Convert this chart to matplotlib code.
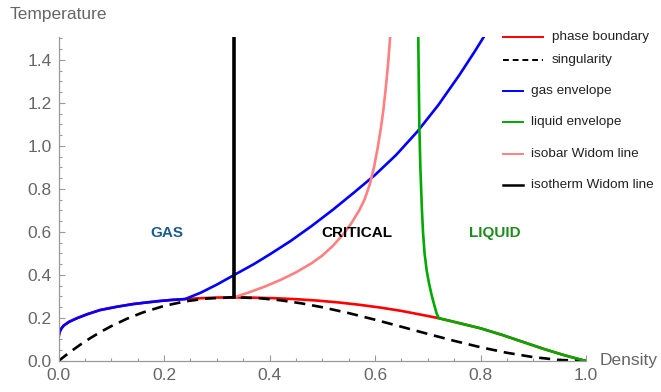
import matplotlib
matplotlib.use("Agg")
import matplotlib.pyplot as plt
from matplotlib.lines import Line2D
from matplotlib.ticker import MultipleLocator

plt.rcParams["font.family"] = ["Liberation Sans", "DejaVu Sans"]

# gas branch of the coexistence curve (low density side)
gas_low_rho = [0.0, 0.001, 0.003, 0.006, 0.01, 0.02, 0.035, 0.055, 0.079, 0.11, 0.142, 0.17,
               0.192, 0.215, 0.24]
gas_low_T = [0.105, 0.124, 0.14, 0.153, 0.165, 0.182, 0.199, 0.218, 0.237, 0.252, 0.265, 0.273,
             0.279, 0.284, 0.288]

# gas envelope above the coexistence curve
gas_up_rho = [0.24, 0.27, 0.30, 0.333, 0.37, 0.40, 0.44, 0.48, 0.52, 0.56, 0.60, 0.64, 0.68,
              0.72, 0.76, 0.79, 0.81]
gas_up_T = [0.288, 0.318, 0.355, 0.40, 0.45, 0.495, 0.558, 0.628, 0.703, 0.783, 0.865, 0.958,
            1.066, 1.19, 1.33, 1.443, 1.522]

# top of the phase boundary between the two kinks
top_rho = [0.24, 0.27, 0.30, 0.333, 0.37, 0.41, 0.45, 0.49, 0.53, 0.57, 0.61, 0.65, 0.69, 0.721]
top_T = [0.288, 0.292, 0.295, 0.296, 0.2945, 0.292, 0.2875, 0.281, 0.2725, 0.2615, 0.2485,
         0.233, 0.214, 0.199]

# liquid branch of the coexistence curve (high density side)
liq_low_rho = [0.721, 0.76, 0.80, 0.84, 0.88, 0.92, 0.96, 1.0]
liq_low_T = [0.199, 0.176, 0.152, 0.122, 0.089, 0.056, 0.026, 0.0]

# liquid envelope, almost vertical
liq_up_rho = [0.682, 0.683, 0.684, 0.686, 0.689, 0.691, 0.694, 0.698, 0.7025, 0.708, 0.7135,
              0.717, 0.721]
liq_up_T = [1.51, 1.3, 1.1, 0.9, 0.7, 0.6, 0.5, 0.42, 0.36, 0.30, 0.25, 0.22, 0.199]

# spinodal / singularity
sing_rho = [0.0, 0.02, 0.04, 0.06, 0.08, 0.10, 0.13, 0.16, 0.20, 0.24, 0.28, 0.333, 0.38, 0.42,
            0.46, 0.50, 0.55, 0.60, 0.65, 0.70, 0.75, 0.80, 0.85, 0.90, 0.95, 1.0]
sing_T = [0.0, 0.0384, 0.0737, 0.106, 0.1354, 0.162, 0.1968, 0.2258, 0.256, 0.2772, 0.2903,
          0.2963, 0.2921, 0.2826, 0.2683, 0.25, 0.2228, 0.192, 0.1593, 0.126, 0.0938, 0.064,
          0.0383, 0.018, 0.0048, 0.0]

# isobar Widom line
isobar_rho = [0.333, 0.36, 0.39, 0.42, 0.45, 0.48, 0.50, 0.52, 0.54, 0.555, 0.57, 0.58, 0.59,
              0.598, 0.605, 0.611, 0.616, 0.620, 0.624, 0.627, 0.629]
isobar_T = [0.296, 0.318, 0.345, 0.376, 0.412, 0.455, 0.49, 0.535, 0.59, 0.64, 0.70, 0.75, 0.82,
            0.90, 0.99, 1.08, 1.17, 1.26, 1.36, 1.45, 1.52]

# isotherm Widom line
isotherm_rho = [0.333, 0.333]
isotherm_T = [0.296, 1.6]

W, H = 661, 392
fig = plt.figure(figsize=(W / 100, H / 100), dpi=100)
ax = fig.add_axes([58.5 / W, 1 - 361 / H, (586 - 58.5) / W, (361 - 36.7) / H])

lw = 1.9
ax.plot(gas_low_rho + top_rho + liq_low_rho, gas_low_T + top_T + liq_low_T, color="#ff0000", lw=lw)
ax.plot(sing_rho, sing_T, color="black", lw=1.9, dashes=(4.2, 2.6))
ax.plot(gas_low_rho + gas_up_rho, gas_low_T + gas_up_T, color="#0000ff", lw=lw)
ax.plot(liq_up_rho + liq_low_rho, liq_up_T + liq_low_T, color="#00aa00", lw=lw)
ax.plot(isobar_rho, isobar_T, color="#ff8080", lw=lw)
ax.plot(isotherm_rho, isotherm_T, color="black", lw=2.6)

ax.text(0.206, 0.595, "GAS", color="#1b5b8c", fontsize=11, fontweight="bold", ha="center", va="center")
ax.text(0.566, 0.595, "CRITICAL", color="black", fontsize=11, fontweight="bold", ha="center", va="center")
ax.text(0.827, 0.595, "LIQUID", color="#1e8c1e", fontsize=11, fontweight="bold", ha="center", va="center")

ax.set_xlim(0, 1)
ax.set_ylim(0, 1.508)
for s in ["top", "right"]:
    ax.spines[s].set_visible(False)
for s in ["left", "bottom"]:
    ax.spines[s].set_color("#9a9a9a")
    ax.spines[s].set_linewidth(0.9)
ax.xaxis.set_major_locator(MultipleLocator(0.2))
ax.xaxis.set_minor_locator(MultipleLocator(0.05))
ax.yaxis.set_major_locator(MultipleLocator(0.2))
ax.yaxis.set_minor_locator(MultipleLocator(0.05))
ax.xaxis.set_major_formatter(lambda v, p: f"{v:.1f}")
ax.yaxis.set_major_formatter(lambda v, p: f"{v:.1f}")
ax.tick_params(which="both", direction="in", color="#9a9a9a", labelcolor="#666666", labelsize=12.5, width=0.8)
ax.tick_params(which="major", length=4.5, pad=5)
ax.tick_params(which="minor", length=2.5)

fig.text(10 / W, 1 - 14 / H, "Temperature", color="#666666", fontsize=12.5, ha="left", va="center")
fig.text(600 / W, 1 - 360 / H, "Density", color="#666666", fontsize=12.5, ha="left", va="center")

# legend built by hand so the row spacing follows the plot
legend_rows = [
    ("phase boundary", "#ff0000", None, 36.7, 502.7, 542.7, 551.7),
    ("singularity", "black", (3.0, 2.0), 60, 502.7, 542.7, 551.7),
    ("gas envelope", "#0000ff", None, 90.7, 502.7, 522.7, 530.7),
    ("liquid envelope", "#00aa00", None, 122, 502.7, 522.7, 530.7),
    ("isobar Widom line", "#ff8080", None, 154.3, 502.7, 522.7, 530.7),
    ("isotherm Widom line", "black", None, 185, 502.7, 522.7, 530.7),
]
for label, color, dash, y, x0, x1, xt in legend_rows:
    ln = Line2D([x0 / W, x1 / W], [1 - y / H, 1 - y / H], transform=fig.transFigure,
                color=color, lw=1.4 if label != "isotherm Widom line" else 1.8)
    if dash:
        ln.set_dashes(dash)
    fig.add_artist(ln)
    fig.text(xt / W, 1 - y / H, label, color="#222222", fontsize=9.7, ha="left", va="center")

fig.savefig("out.png", dpi=100)
